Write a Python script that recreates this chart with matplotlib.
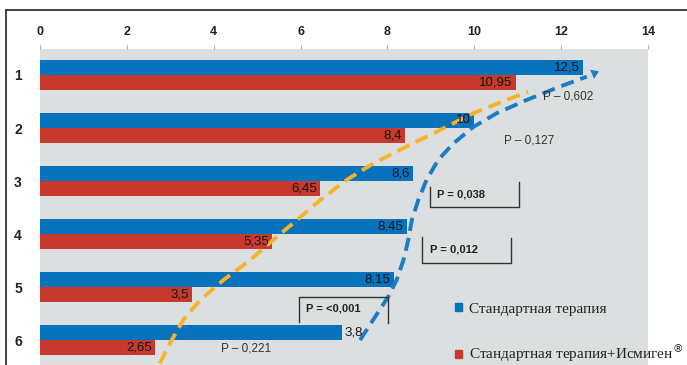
import matplotlib
matplotlib.use("Agg")
import matplotlib.pyplot as plt
from matplotlib.lines import Line2D
from matplotlib.patches import Patch

# --- data ---
categories = ["1", "2", "3", "4", "5", "6"]
standard = [12.5, 10.0, 8.6, 8.45, 8.15, 6.95]
standard_labels = ["12,5", "10", "8,6", "8,45", "8,15", "3,8"]
ismigen = [10.95, 8.4, 6.45, 5.35, 3.5, 2.65]
ismigen_labels = ["10,95", "8,4", "6,45", "5,35", "3,5", "2,65"]

# trend curves (x value, category position)
ism_curve_x = [2.76, 2.99, 3.30, 3.68, 4.22, 4.84, 5.37, 5.91, 6.45, 7.06,
               7.67, 8.44, 9.21, 9.98, 10.75, 11.24]
ism_curve_y = [5.44, 5.06, 4.62, 4.25, 3.87, 3.49, 3.11, 2.74, 2.36, 1.98,
               1.67, 1.35, 1.04, 0.72, 0.47, 0.32]
std_curve_x = [7.37, 7.67, 8.02, 8.21, 8.37, 8.48, 8.56, 8.71, 8.90, 9.17,
               9.52, 9.98, 10.52, 11.21, 11.97, 12.59, 12.93]
std_curve_y = [5.00, 4.62, 4.18, 3.87, 3.49, 3.11, 2.74, 2.36, 1.98, 1.60,
               1.29, 0.98, 0.72, 0.47, 0.22, 0.03, -0.09]

BLUE = "#0872bd"
RED = "#c63a2d"
BG = "#dcdfe0"
SANS = ["Liberation Sans", "DejaVu Sans"]
NARROW = ["Liberation Sans Narrow", "Liberation Sans", "DejaVu Sans"]

fig = plt.figure(figsize=(6.87, 3.65), dpi=100)
ax = fig.add_axes([40 / 687, 0, 608 / 687, 1 - 49 / 365])
ax.set_facecolor(BG)

pos = list(range(len(categories)))
h = 0.283
ax.barh([p - h / 2 for p in pos], standard, height=h, color=BLUE, zorder=2)
ax.barh([p + h / 2 for p in pos], ismigen, height=h, color=RED, zorder=2)

vlab = dict(fontsize=9.5, color="#151515", family=NARROW, va="center",
            zorder=4)
for p, v, lab in zip(pos, standard, standard_labels):
    if lab == "3,8":
        ax.text(v + 0.05, p - h / 2, lab, ha="left", **vlab)
    else:
        ax.text(v - 0.08, p - h / 2, lab, ha="right", **vlab)
for p, v, lab in zip(pos, ismigen, ismigen_labels):
    ax.text(v - 0.08, p + h / 2, lab, ha="right", **vlab)

dash = (0, (3.4, 1.8))
ax.plot(ism_curve_x, ism_curve_y, color="#f6b42a", lw=2.8, ls=dash,
        zorder=3)
ax.plot(std_curve_x[:-1], std_curve_y[:-1], color="#1b7cc6", lw=2.8, ls=dash,
        zorder=3)
ax.annotate("", xy=(std_curve_x[-1], std_curve_y[-1]),
            xytext=(std_curve_x[-2], std_curve_y[-2]),
            arrowprops=dict(arrowstyle="-|>,head_length=0.45,head_width=0.3",
                            color="#1b7cc6", lw=0, mutation_scale=12),
            zorder=3)

# p-values
plain = dict(fontsize=8.5, color="#333333", family=SANS, va="center", zorder=5)
ax.text(11.59, 0.40, "P \u2013 0,602", **plain)
ax.text(10.69, 1.23, "P \u2013 0,127", **plain)
ax.text(4.17, 5.15, "P \u2013 0,221", **plain)

bold = dict(fontsize=8, color="#222222", family=SANS, fontweight="bold",
            va="center", zorder=5)
ax.text(9.15, 2.26, "P = 0,038", **bold)
ax.text(8.99, 3.30, "P = 0,012", **bold)
ax.text(6.13, 4.40, "P = <0,001", **bold)

bk = dict(color="#333333", lw=1.0, zorder=5)
ax.plot([8.99, 8.99, 11.04, 11.04], [2.11, 2.49, 2.49, 2.02], **bk)
ax.plot([8.80, 8.80, 10.85, 10.85], [3.06, 3.55, 3.55, 3.08], **bk)
ax.plot([5.97, 5.97, 8.02, 8.02], [4.66, 4.19, 4.19, 4.68], **bk)

ax.set_xlim(0, 14)
ax.set_ylim(5.47, -0.49)
ax.xaxis.tick_top()
ax.set_xticks(range(0, 15, 2))
ax.set_xticklabels([str(t) for t in range(0, 15, 2)], fontsize=9,
                   fontweight="bold", family=SANS, color="#222222")
ax.tick_params(axis="x", length=3, color="#aaaaaa", pad=5)
ax.set_yticks(pos)
ax.set_yticklabels(categories, fontsize=10, fontweight="bold", family=SANS,
                   color="#222222")
ax.tick_params(axis="y", length=0, pad=13)
for s in ax.spines.values():
    s.set_visible(False)

handles = [Patch(color=BLUE), Patch(color=RED)]
leg = ax.legend(handles, ["Стандартная терапия",
                          "Стандартная терапия+Исмиген$^{\u00ae}$"],
                loc="center left", bbox_to_anchor=(0.6826, 0.10),
                frameon=False, borderpad=0, borderaxespad=0,
                handlelength=0.45, handleheight=0.45, handletextpad=0.45,
                labelspacing=1.7,
                prop={"family": ["Liberation Serif", "DejaVu Serif"],
                      "size": 11})
for t in leg.get_texts():
    t.set_color("#222222")

# outer frame
fig.add_artist(Line2D([6 / 687, 1], [1 - 10 / 365] * 2,
                      transform=fig.transFigure, color="#333333", lw=1.3))
fig.add_artist(Line2D([6 / 687] * 2, [0, 1 - 10 / 365],
                      transform=fig.transFigure, color="#333333", lw=1.3))

fig.savefig("out.png", dpi=100, facecolor="white")
